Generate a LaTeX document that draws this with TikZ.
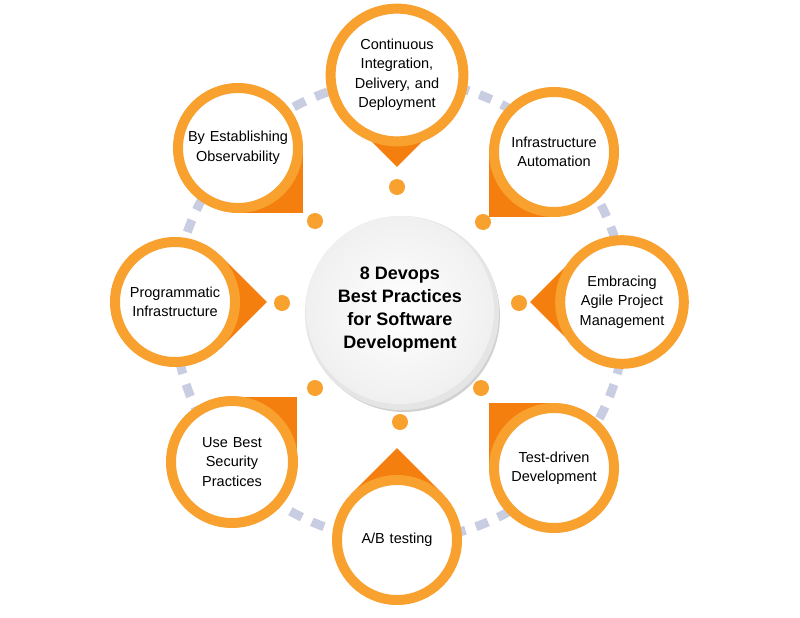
\documentclass[tikz,border=0pt]{standalone}
\usepackage{fontspec}
\setmainfont{Liberation Sans}
\begin{document}
\begin{tikzpicture}[x=1pt,y=-1pt,
  ring/.style={circle,draw=ringc,line width=10pt,fill=white,minimum size=120pt,inner sep=0pt,align=center,font=\fontsize{14.5}{19.5}\selectfont,text width=112pt},
  dotc/.style={circle,fill=ringc,minimum size=16pt,inner sep=0pt},
  conn/.style={draw=dashc,line width=9pt,dash pattern=on 13pt off 11pt}]
\definecolor{ringc}{HTML}{F8A12E}
\definecolor{ptrc}{HTML}{F57F0E}
\definecolor{dashc}{HTML}{C9CDE2}
\useasboundingbox (0,0) rectangle (800,618);
\fill[white] (0,0) rectangle (800,618);
\coordinate (c) at (400,310);
\draw[conn] (c) ellipse [x radius=226pt,y radius=230pt];
\foreach \x/\y/\a in {397/75/90, 554/152/135, 622/302/180, 554/468/225, 397/540/270, 232/462/315, 175/302/0, 238/148/45}{
  \fill[ptrc] (\x,\y) -- ++(\a-45:65) -- ++(\a+45:65) -- ++(\a-45:-65) -- cycle;
}
\foreach \n/\x/\y/\t in {
  n1/397/75/{Continuous\\Integration,\\Delivery, and\\Deployment},
  n2/554/152/{Infrastructure\\Automation},
  n3/622/302/{Embracing\\Agile Project\\Management},
  n4/554/468/{Test-driven\\Development},
  n5/397/540/{A/B testing},
  n6/232/462/{Use Best\\Security\\Practices},
  n7/175/302/{Programmatic\\Infrastructure},
  n8/238/148/{By Establishing\\Observability}}{
  \node[ring] (\n) at (\x,\y) {\t};
}
\foreach \n/\x/\y in {d1/397/187, d2/483/222, d3/519/303, d4/481/388, d5/400/422, d6/315/388, d7/282/303, d8/315/221}{
  \node[dotc] (\n) at (\x,\y) {};
}
\fill[black!18] (404,316) circle (96pt);
\fill[black!10] (402,313) circle (97pt);
\shade[inner color=white,outer color=black!6] (c) circle (94pt);
\node[align=center,font=\bfseries\fontsize{18}{23}\selectfont] (center) at (c) {8 Devops\\Best Practices\\for Software\\Development};
\end{tikzpicture}
\end{document}
